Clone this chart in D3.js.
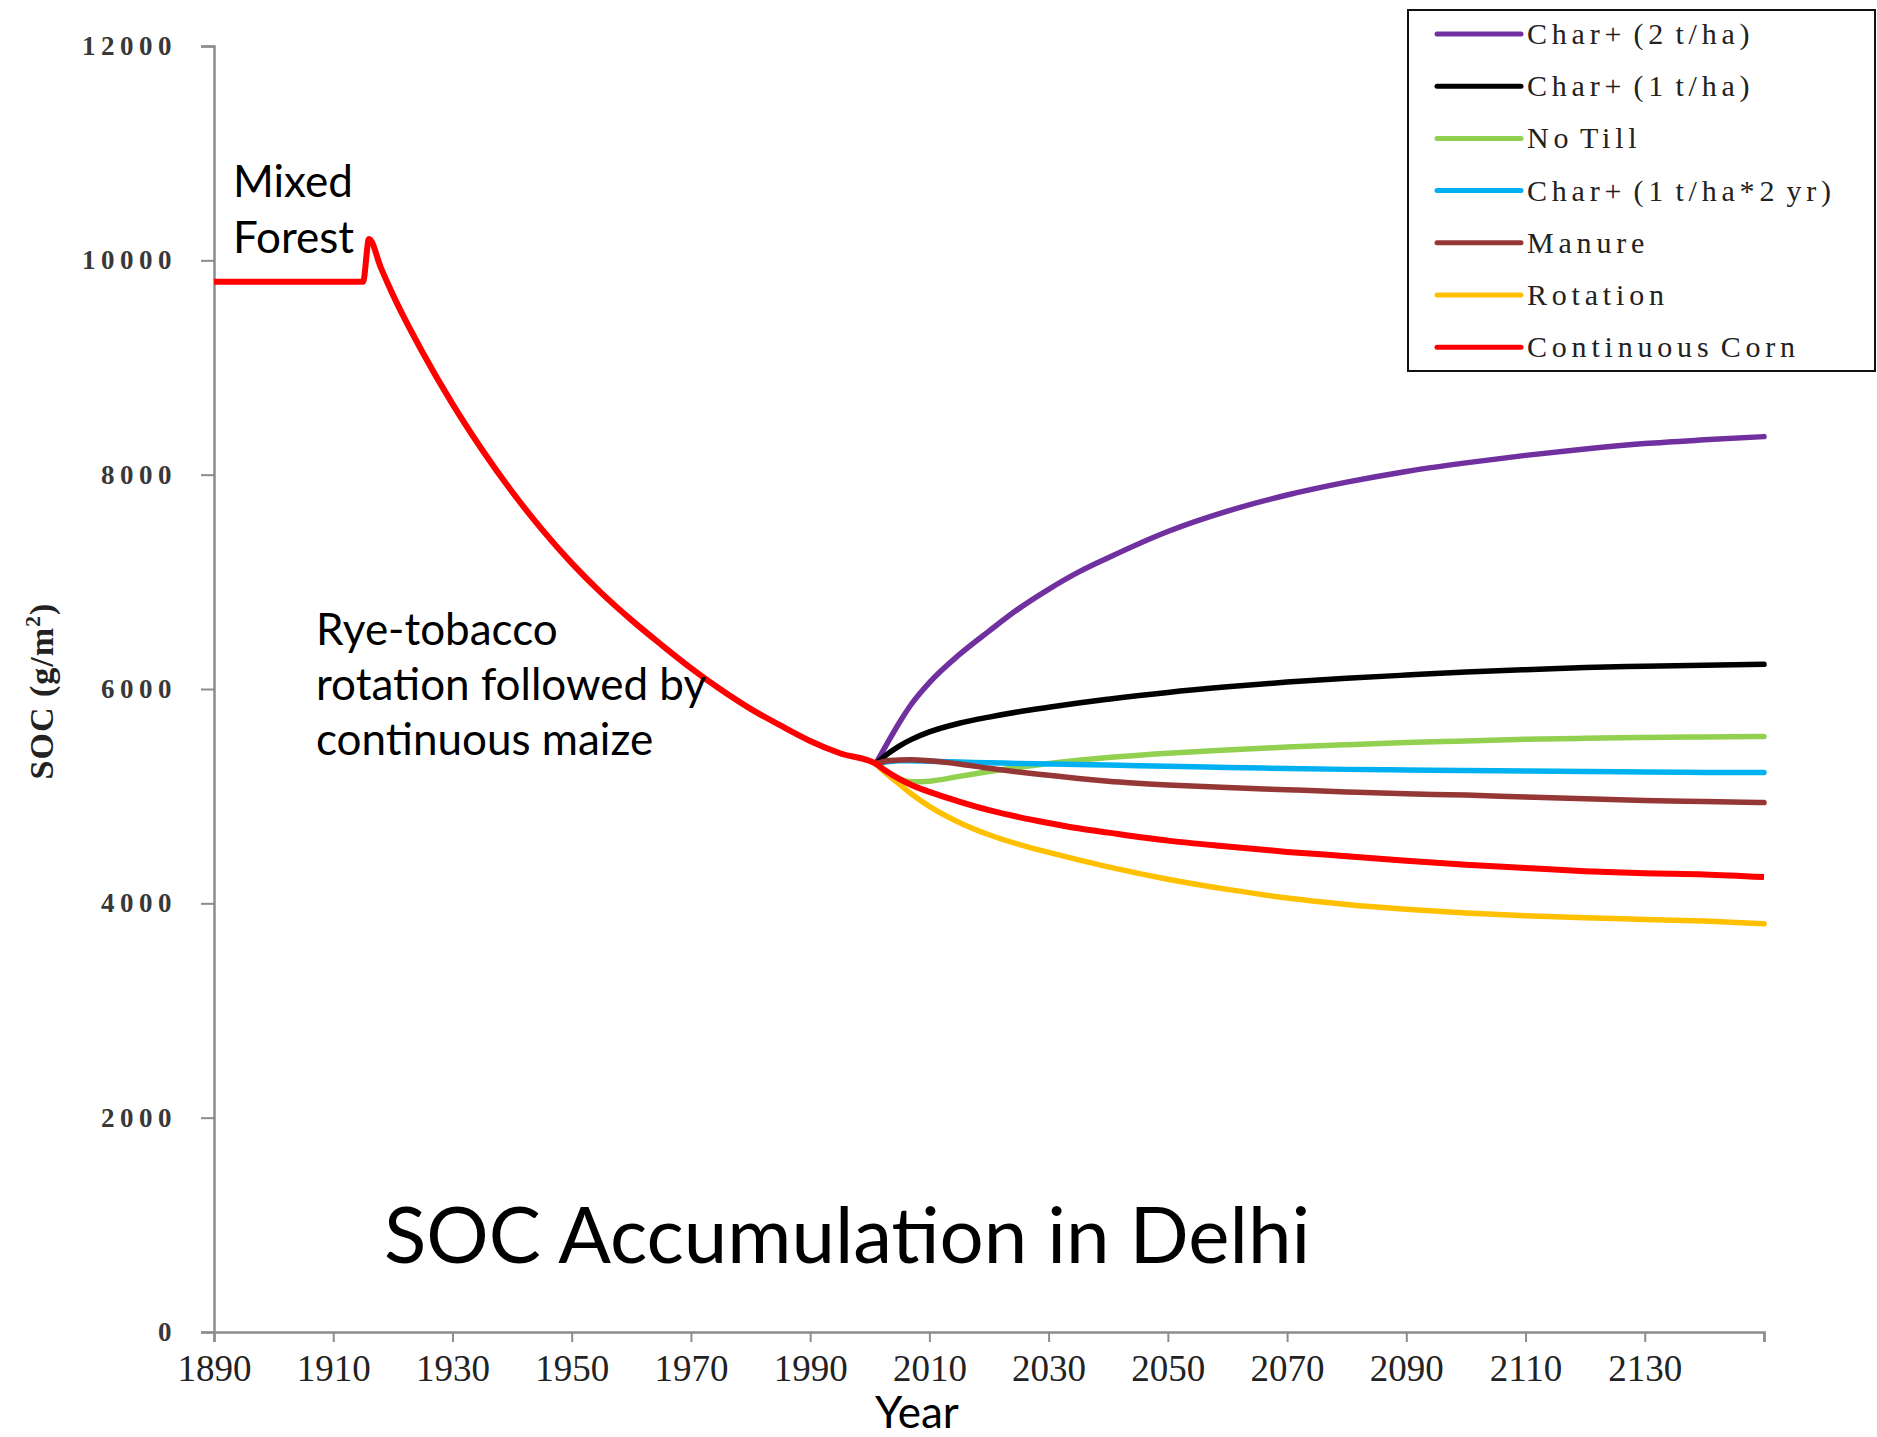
<!DOCTYPE html>
<html>
<head>
<meta charset="utf-8">
<script src="https://cdn.jsdelivr.net/npm/d3@7"></script>
<style>
  body { margin: 0; background: #fff; }
  svg { display: block; }
</style>
</head>
<body>
<div id="chart"></div>
<script>
// historic continuous corn run (forest, then rye-tobacco / maize)
const histYears = [1890, 1915, 1916, 1918, 1920, 1925, 1930, 1935, 1940, 1945, 1950, 1955, 1960, 1965, 1970, 1975, 1980, 1985, 1990, 1995, 2001];
const histSOC = [9800, 9800, 10200, 9930, 9680, 9140, 8660, 8230, 7840, 7490, 7175, 6895, 6645, 6415, 6195, 5995, 5815, 5660, 5515, 5400, 5303];

// scenario runs from 2001
const futureYears = [2001, 2003, 2005, 2007, 2010, 2015, 2020, 2025, 2030, 2035, 2040, 2050, 2060, 2070, 2080, 2090, 2100, 2110, 2120, 2130, 2140, 2150];
const char2 = [5303, 5500, 5690, 5860, 6060, 6320, 6540, 6750, 6930, 7090, 7225, 7470, 7660, 7810, 7930, 8030, 8110, 8180, 8240, 8290, 8325, 8355];
const char1 = [5303, 5395, 5470, 5530, 5600, 5680, 5738, 5788, 5830, 5870, 5905, 5968, 6020, 6065, 6100, 6130, 6158, 6180, 6200, 6212, 6222, 6230];
const noTill = [5303, 5215, 5160, 5135, 5140, 5185, 5230, 5270, 5305, 5335, 5360, 5400, 5430, 5458, 5480, 5500, 5515, 5530, 5540, 5548, 5553, 5557];
const char1x2 = [5303, 5320, 5330, 5330, 5325, 5318, 5312, 5305, 5300, 5295, 5290, 5278, 5268, 5258, 5250, 5245, 5240, 5235, 5230, 5225, 5222, 5220];
const manure = [5303, 5330, 5338, 5340, 5330, 5300, 5260, 5225, 5195, 5165, 5140, 5105, 5080, 5060, 5040, 5022, 5010, 4992, 4975, 4960, 4950, 4940];
const rotation = [5303, 5200, 5110, 5020, 4905, 4755, 4640, 4550, 4475, 4405, 4340, 4225, 4130, 4050, 3990, 3945, 3910, 3885, 3865, 3850, 3835, 3810];
const contCorn = [5303, 5225, 5160, 5105, 5040, 4950, 4870, 4805, 4750, 4700, 4660, 4585, 4530, 4480, 4440, 4398, 4360, 4330, 4300, 4280, 4270, 4245];

const seriesNames = ["Char+ (2 t/ha)", "Char+ (1 t/ha)", "No Till", "Char+ (1 t/ha*2 yr)", "Manure", "Rotation", "Continuous Corn"];
const seriesColors = ["#7030A0", "#000000", "#92D050", "#00B0F0", "#953735", "#FFC000", "#FF0000"];
const xTicks = [1890, 1910, 1930, 1950, 1970, 1990, 2010, 2030, 2050, 2070, 2090, 2110, 2130, 2150];
const yTicks = [0, 2000, 4000, 6000, 8000, 10000, 12000];

const width = 1877, height = 1437;
const margin = { top: 46, right: 113, bottom: 105, left: 214 };

const svg = d3.select("#chart").append("svg")
  .attr("width", width)
  .attr("height", height);

svg.append("rect").attr("width", width).attr("height", height).attr("fill", "#fff");

const x = d3.scaleLinear()
  .domain([1890, 2150])
  .range([margin.left, width - margin.right]);

const y = d3.scaleLinear()
  .domain([0, 12000])
  .range([height - margin.bottom, margin.top]);

// axes
const yAxis = svg.append("g")
  .attr("transform", `translate(${margin.left},0)`)
  .call(d3.axisLeft(y).tickValues(yTicks).tickSize(13).tickPadding(24).tickFormat(d3.format("d")));

const xAxis = svg.append("g")
  .attr("transform", `translate(0,${height - margin.bottom})`)
  .call(d3.axisBottom(x).tickValues(xTicks).tickSize(10).tickPadding(13)
    .tickFormat(d => d === 2150 ? "" : d));

[yAxis, xAxis].forEach(g => {
  g.select(".domain").attr("stroke", "#8c8c8c").attr("stroke-width", 2.5);
  g.selectAll(".tick line").attr("stroke", "#8c8c8c").attr("stroke-width", 2);
});

yAxis.selectAll(".tick text")
  .attr("font-family", "'Liberation Serif', serif")
  .attr("font-size", 27)
  .attr("font-weight", "bold")
  .attr("letter-spacing", "5.5px")
  .attr("fill", "#383838");

xAxis.selectAll(".tick text")
  .attr("font-family", "'Liberation Serif', serif")
  .attr("font-size", 37)
  .attr("fill", "#222");

// y title
svg.append("text")
  .attr("transform", "translate(53,691) rotate(-90)")
  .attr("text-anchor", "middle")
  .attr("font-family", "'Liberation Serif', serif")
  .attr("font-size", 34)
  .attr("font-weight", "bold")
  .attr("letter-spacing", "1px")
  .attr("fill", "#222")
  .html('SOC (g/m<tspan dy="-13" font-size="22">2</tspan><tspan dy="13">)</tspan>');

svg.append("text")
  .attr("x", 917).attr("y", 1428)
  .attr("text-anchor", "middle")
  .attr("font-family", "Lato, sans-serif")
  .attr("font-size", 44)
  .attr("fill", "#000")
  .text("Year");

// lines
const line = d3.line()
  .x(d => x(d[0]))
  .y(d => y(d[1]))
  .curve(d3.curveMonotoneX);

const scenarios = [char2, char1, noTill, char1x2, manure, rotation];
scenarios.forEach((vals, i) => {
  svg.append("path")
    .datum(futureYears.map((yr, j) => [yr, vals[j]]))
    .attr("fill", "none")
    .attr("stroke", seriesColors[i])
    .attr("stroke-width", 5.5)
    .attr("stroke-linejoin", "round")
    .attr("stroke-linecap", "round")
    .attr("d", line);
});

const cornData = histYears.map((yr, j) => [yr, histSOC[j]])
  .concat(futureYears.slice(1).map((yr, j) => [yr, contCorn[j + 1]]));

svg.append("path")
  .datum(cornData)
  .attr("fill", "none")
  .attr("stroke", seriesColors[6])
  .attr("stroke-width", 6)
  .attr("stroke-linejoin", "round")
  .attr("d", line);

// legend
const legend = svg.append("g");
legend.append("rect")
  .attr("x", 1408).attr("y", 10)
  .attr("width", 467).attr("height", 361)
  .attr("fill", "#fff")
  .attr("stroke", "#111")
  .attr("stroke-width", 2);

seriesNames.forEach((name, i) => {
  const ly = 34 + i * 52.2;
  legend.append("line")
    .attr("x1", 1437).attr("x2", 1521)
    .attr("y1", ly).attr("y2", ly)
    .attr("stroke", seriesColors[i])
    .attr("stroke-width", 5)
    .attr("stroke-linecap", "round");
  legend.append("text")
    .attr("x", 1527).attr("y", ly + 10)
    .attr("font-family", "'Liberation Serif', serif")
    .attr("font-size", 30)
    .attr("letter-spacing", "4.8px")
    .attr("word-spacing", "-5px")
    .attr("fill", "#222")
    .text(name);
});

// annotations
const notes = [
  { x: 233, y: 197, size: 44, text: "Mixed" },
  { x: 233, y: 253, size: 44, text: "Forest" },
  { x: 316, y: 645, size: 44, text: "Rye-tobacco" },
  { x: 316, y: 700, size: 44, text: "rotation followed by" },
  { x: 316, y: 755, size: 44, text: "continuous maize" },
  { x: 384, y: 1263, size: 78, text: "SOC Accumulation in Delhi" }
];
notes.forEach(n => {
  svg.append("text")
    .attr("x", n.x).attr("y", n.y)
    .attr("font-family", "Lato, sans-serif")
    .attr("font-size", n.size)
    .attr("fill", "#000")
    .text(n.text);
});
</script>
</body>
</html>
